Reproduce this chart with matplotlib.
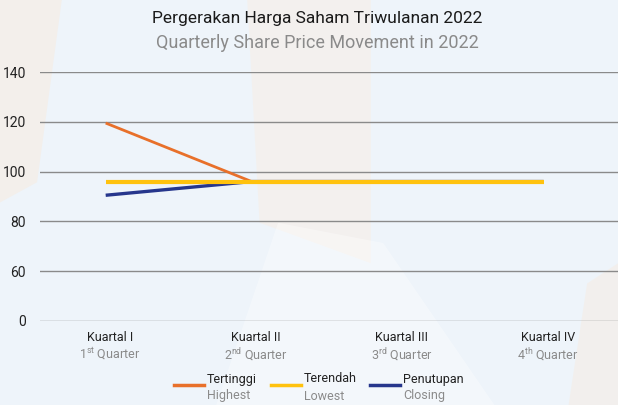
import matplotlib
matplotlib.use("Agg")
import matplotlib.pyplot as plt
from matplotlib.lines import Line2D
from matplotlib.patches import Polygon

plt.rcParams['font.family'] = ['Roboto', 'DejaVu Sans']
plt.rcParams['mathtext.fontset'] = 'custom'
plt.rcParams['mathtext.rm'] = 'Roboto'
plt.rcParams['mathtext.it'] = 'Roboto'

quarters_id = ["Kuartal I", "Kuartal II", "Kuartal III", "Kuartal IV"]
quarters_en = ["1$^{\\mathrm{st}}$ Quarter", "2$^{\\mathrm{nd}}$ Quarter",
               "3$^{\\mathrm{rd}}$ Quarter", "4$^{\\mathrm{th}}$ Quarter"]
highest = [119.5, 96, 96, 96]
lowest = [96, 96, 96, 96]
closing = [90.5, 96, 96, 96]
ytick_vals = [40, 60, 80, 100, 120, 140]
ytick_labels = ["0", "60", "80", "100", "120", "140"]
series_id = ["Tertinggi", "Terendah", "Penutupan"]
series_en = ["Highest", "Lowest", "Closing"]
colors = ["#e8702a", "#ffc20e", "#26368c"]

W, H = 618, 405
fig = plt.figure(figsize=(W/100, H/100), dpi=100)
fig.patch.set_facecolor("#eef4fa")

# faint background shapes
bg = [
    ([(0, 1), (0.10, 1), (0.06, 0.55), (0, 0.5)], "#fde6cf", 0.35),
    ([(0.40, 1), (0.60, 1), (0.60, 0.35), (0.42, 0.45)], "#fdebd8", 0.35),
    ([(0.45, 0.45), (0.62, 0.40), (0.80, 0.0), (0.35, 0.0)], "#ffffff", 0.35),
    ([(0.95, 0.3), (1.0, 0.35), (1.0, 0.0), (0.92, 0.0)], "#fde6cf", 0.3),
]
for pts, c, a in bg:
    fig.add_artist(Polygon(pts, closed=True, transform=fig.transFigure,
                           facecolor=c, edgecolor='none', alpha=a, zorder=-10))

ax = fig.add_axes([40/W, (H-321)/H, 1 - 40/W, (321-72)/H])
ax.patch.set_alpha(0)
x = list(range(len(quarters_id)))
ax.set_xlim(-0.45, 3.51)
ax.set_ylim(40, 140)

for v in ytick_vals:
    ax.axhline(v, color="#8a8a8a", lw=1.0, zorder=1)

ax.plot(x, highest, color=colors[0], lw=2.0, zorder=3, solid_capstyle='butt')
ax.plot(x, closing, color=colors[2], lw=2.4, zorder=3, solid_capstyle='butt')
ax.plot(x, lowest, color=colors[1], lw=3.0, zorder=4, solid_capstyle='butt')

ax.set_yticks(ytick_vals)
ax.set_yticklabels(ytick_labels, fontsize=10, color="#222222")
ax.tick_params(axis='y', length=0, pad=10)
ax.set_xticks([])
for s in ax.spines.values():
    s.set_visible(False)

for i in x:
    ax.text(i + 0.03, 33.4, quarters_id[i], ha='center', va='center',
            fontsize=9, color="#222222")
    ax.text(i + 0.03, 26.6, quarters_en[i], ha='center', va='center',
            fontsize=9, color="#8a8a8a")

fig.text(317/W, 1 - 19/H, "Pergerakan Harga Saham Triwulanan 2022", ha='center',
         va='center', fontsize=12.5, color="#1a1a1a")
fig.text(317/W, 1 - 43/H, "Quarterly Share Price Movement in 2022", ha='center',
         va='center', fontsize=13, color="#8a8a8a")

# legend
leg_x = [174, 271, 370]
for lx, c, t1, t2 in zip(leg_x, colors, series_id, series_en):
    fig.add_artist(Line2D([lx/W, (lx+30)/W], [1-385/H, 1-385/H], color=c, lw=2.5,
                          transform=fig.transFigure))
    fig.text((lx+33)/W, 1-379/H, t1, ha='left', va='center', fontsize=9, color="#222222")
    fig.text((lx+33)/W, 1-396/H, t2, ha='left', va='center', fontsize=9, color="#8a8a8a")

fig.savefig("out.png", dpi=100, facecolor=fig.get_facecolor())
